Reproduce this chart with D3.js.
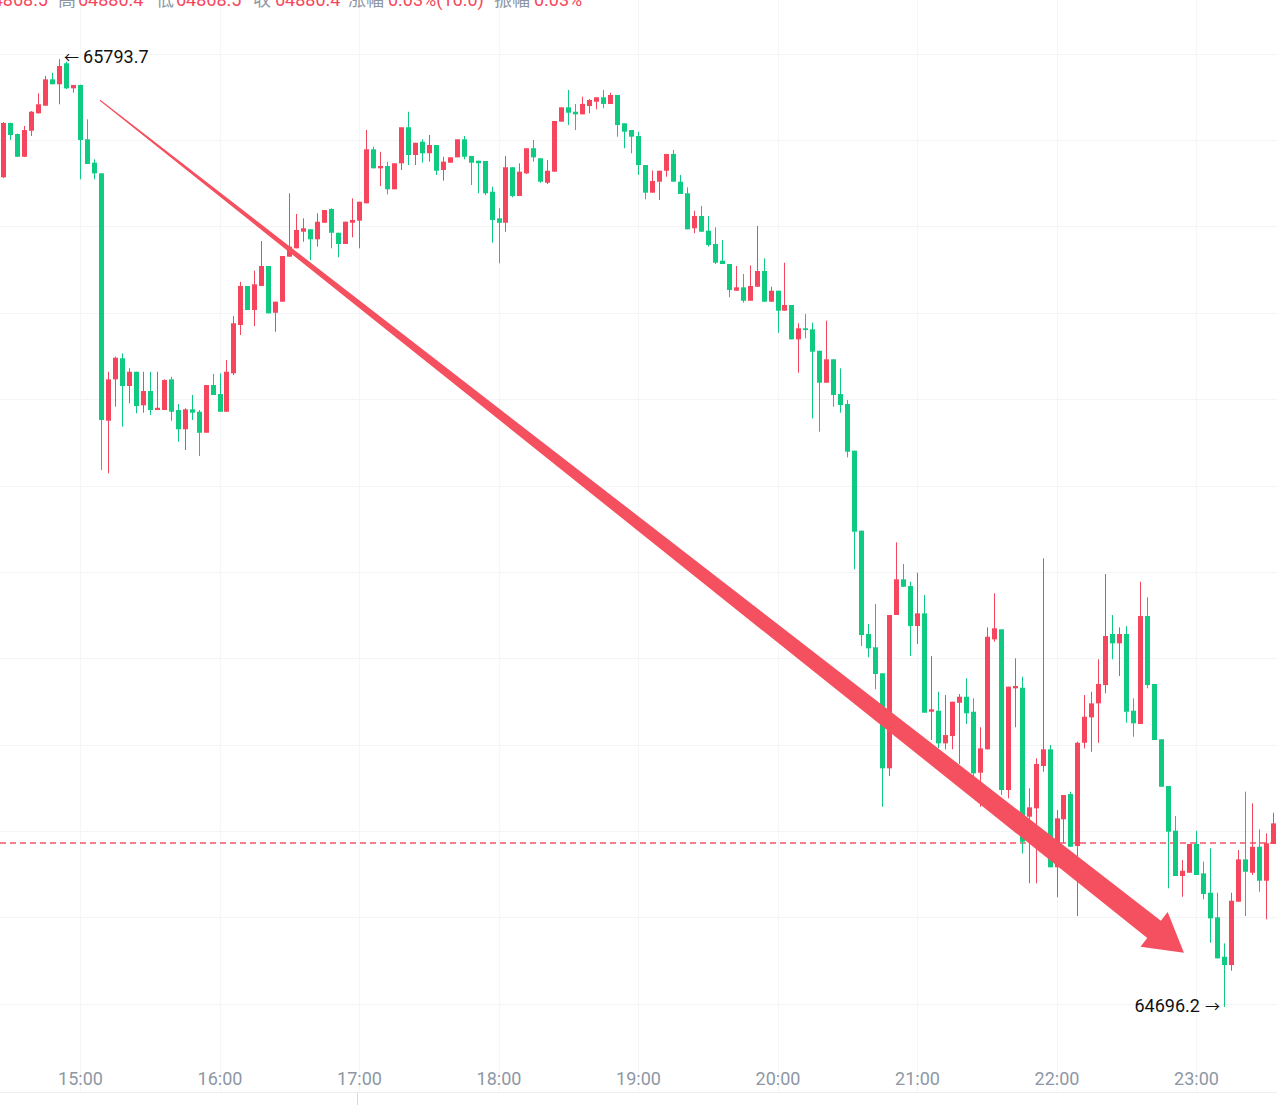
<!DOCTYPE html>
<html>
<head>
<meta charset="utf-8">
<script src="https://cdn.jsdelivr.net/npm/d3@7"></script>
<style>
  html, body { margin: 0; padding: 0; background: #fff; }
  svg { display: block; font-family: Roboto, "Noto Sans CJK SC", sans-serif; }
</style>
</head>
<body>
<svg id="chart" width="1277" height="1105"></svg>
<script>
// 3-minute candles, first one at 14:27
const firstCandle = new Date(2024, 2, 8, 14, 27);
const stepMinutes = 3;

const opens = [
  65656.8, 65719.7, 65706.9, 65680.6, 65710.7, 65730.9, 65739.7, 65770.2, 65764.5, 65788.8,
  65759.8, 65763.7, 65700.8, 65673.7, 65661.4, 65375.0, 65422.9, 65447.3, 65415.2, 65431.7,
  65392.8, 65409.4, 65387.4, 65387.4, 65422.9, 65387.4, 65365.1, 65388.2, 65385.4, 65361.1,
  65416.3, 65405.9, 65385.4, 65429.9, 65485.8, 65531.0, 65503.2, 65531.0, 65554.1, 65500.0,
  65512.8, 65564.9, 65574.6, 65593.8, 65596.6, 65585.0, 65604.2, 65620.1, 65592.6, 65579.6,
  65604.2, 65606.6, 65626.7, 65689.2, 65667.2, 65669.9, 65642.9, 65673.0, 65714.7, 65682.6,
  65698.0, 65684.6, 65694.2, 65665.2, 65673.7, 65679.9, 65700.8, 65681.5, 65676.0, 65675.7,
  65640.1, 65609.3, 65604.2, 65668.4, 65635.1, 65661.4, 65690.4, 65678.8, 65650.5, 65663.3,
  65721.2, 65737.8, 65732.7, 65729.7, 65739.3, 65744.3, 65749.4, 65741.7, 65752.1, 65719.3,
  65711.5, 65704.6, 65671.0, 65639.0, 65651.7, 65664.4, 65683.8, 65651.7, 65638.3, 65597.8,
  65612.0, 65595.0, 65579.6, 65560.2, 65556.4, 65525.5, 65529.4, 65513.9, 65530.1, 65548.3,
  65512.8, 65525.5, 65502.4, 65509.0, 65469.2, 65482.0, 65480.8, 65456.0, 65419.0, 65446.1,
  65405.9, 65394.3, 65340.3, 65247.7, 65128.1, 65112.7, 65082.6, 64972.6, 65150.1, 65191.4,
  65183.6, 65137.3, 65152.0, 65038.1, 65039.3, 65001.5, 65010.0, 65048.5, 65055.5, 65038.1,
  64967.5, 64994.6, 65121.9, 65133.5, 64947.5, 65065.2, 65065.9, 64916.6, 64926.3, 64975.3,
  64994.6, 64858.0, 64913.6, 64942.8, 64882.6, 65002.2, 65031.6, 65047.8, 65069.0, 65128.1,
  65117.3, 65128.1, 65039.3, 65023.9, 65148.9, 65070.2, 65006.2, 64952.1, 64900.4, 64847.9,
  64851.7, 64885.0, 64851.0, 64828.6, 64800.1, 64754.5, 64744.9, 64818.2, 64867.2, 64851.7,
  64881.8, 64842.5, 64885.0
];
const highs = [
  65720.8, 65720.0, 65707.5, 65716.2, 65733.5, 65754.0, 65774.1, 65777.9, 65793.7, 65790.6,
  65763.7, 65764.0, 65723.9, 65677.6, 65661.4, 65431.7, 65449.3, 65453.0, 65435.7, 65431.7,
  65431.7, 65431.7, 65431.7, 65422.9, 65425.9, 65394.3, 65389.4, 65404.8, 65387.4, 65416.3,
  65429.1, 65429.9, 65445.3, 65496.2, 65535.9, 65531.0, 65548.7, 65583.0, 65554.1, 65512.8,
  65565.7, 65638.3, 65614.3, 65609.3, 65596.6, 65615.1, 65618.9, 65620.9, 65592.6, 65605.4,
  65632.5, 65628.5, 65711.6, 65692.2, 65686.4, 65674.9, 65673.0, 65714.7, 65732.7, 65696.8,
  65700.8, 65705.8, 65694.2, 65680.6, 65679.9, 65700.8, 65704.6, 65681.5, 65676.0, 65675.7,
  65645.9, 65620.9, 65681.5, 65668.4, 65673.0, 65690.4, 65700.0, 65678.8, 65676.8, 65722.0,
  65737.8, 65757.9, 65741.7, 65750.1, 65747.4, 65749.4, 65757.9, 65754.7, 65752.1, 65719.3,
  65711.5, 65709.6, 65671.0, 65664.7, 65664.4, 65683.8, 65688.4, 65659.5, 65645.2, 65618.1,
  65623.6, 65612.0, 65598.9, 65584.2, 65556.4, 65554.1, 65544.8, 65554.9, 65600.4, 65563.0,
  65530.1, 65525.5, 65557.9, 65509.0, 65487.8, 65498.5, 65488.5, 65456.0, 65490.8, 65446.1,
  65435.7, 65399.0, 65340.3, 65247.7, 65139.6, 65162.8, 65082.6, 65150.1, 65234.2, 65209.1,
  65188.6, 65199.0, 65173.2, 65102.6, 65061.3, 65057.5, 65049.7, 65058.6, 65076.8, 65053.6,
  65020.1, 65135.8, 65175.2, 65133.5, 65067.1, 65099.9, 65078.6, 64949.4, 64984.2, 65215.7,
  64999.6, 64924.3, 64941.7, 64945.5, 65003.4, 65057.5, 65061.3, 65098.8, 65197.5, 65150.1,
  65135.8, 65137.3, 65053.6, 65188.6, 65170.6, 65070.2, 65006.2, 64952.1, 64917.4, 64866.4,
  64885.0, 64900.4, 64864.5, 64880.0, 64828.6, 64770.0, 64828.6, 64878.0, 64945.5, 64932.1,
  64902.0, 64897.3, 64921.2
];
const lows = [
  65656.0, 65700.0, 65680.3, 65680.3, 65704.6, 65730.5, 65739.7, 65764.5, 65741.3, 65759.0,
  65754.7, 65654.5, 65672.2, 65654.5, 65317.9, 65314.1, 65391.2, 65368.1, 65395.2, 65383.6,
  65384.3, 65381.6, 65387.4, 65387.4, 65375.0, 65350.7, 65341.1, 65375.8, 65334.1, 65361.1,
  65404.8, 65385.4, 65385.4, 65427.9, 65474.2, 65503.2, 65484.6, 65531.0, 65499.3, 65478.0,
  65512.8, 65564.9, 65574.6, 65582.2, 65561.0, 65576.5, 65604.2, 65574.6, 65564.2, 65579.6,
  65587.3, 65574.6, 65626.7, 65667.2, 65646.7, 65637.1, 65642.9, 65665.2, 65671.0, 65671.0,
  65673.7, 65674.9, 65659.5, 65652.9, 65673.7, 65679.9, 65677.6, 65647.9, 65638.3, 65636.3,
  65581.1, 65557.2, 65593.8, 65633.6, 65635.1, 65660.6, 65674.9, 65650.5, 65649.0, 65663.3,
  65721.2, 65717.3, 65711.5, 65729.7, 65730.9, 65735.5, 65736.7, 65741.7, 65703.8, 65690.4,
  65684.6, 65659.5, 65631.3, 65639.0, 65630.5, 65657.5, 65651.7, 65637.5, 65596.6, 65592.0,
  65593.8, 65576.5, 65556.4, 65556.4, 65517.9, 65525.5, 65511.6, 65513.9, 65530.1, 65512.8,
  65512.8, 65476.9, 65502.4, 65469.2, 65430.6, 65470.4, 65377.8, 65362.3, 65419.0, 65391.2,
  65384.3, 65332.6, 65203.0, 65114.2, 65101.1, 65064.1, 64928.1, 64963.7, 65150.1, 65182.8,
  65102.6, 65116.5, 65037.0, 65005.4, 64995.7, 64994.6, 64994.6, 64977.6, 65023.9, 64962.2,
  64928.1, 64994.6, 65119.2, 64941.7, 64937.9, 65020.1, 64874.2, 64839.5, 64839.5, 64968.7,
  64858.0, 64823.3, 64886.1, 64881.8, 64801.6, 64995.7, 64991.8, 65002.2, 65059.4, 65098.8,
  65079.4, 65025.4, 65009.2, 65023.9, 65065.2, 65005.4, 64951.3, 64833.7, 64847.9, 64823.9,
  64851.7, 64849.1, 64820.9, 64770.7, 64752.6, 64696.2, 64738.3, 64818.2, 64801.6, 64849.1,
  64829.7, 64797.8, 64885.0
];
const closes = [
  65719.7, 65705.8, 65680.6, 65711.5, 65732.7, 65741.3, 65770.2, 65764.5, 65785.6, 65759.8,
  65763.7, 65700.0, 65672.2, 65661.4, 65375.8, 65422.9, 65447.9, 65415.2, 65431.7, 65392.0,
  65409.4, 65387.4, 65390.0, 65422.1, 65385.4, 65365.1, 65388.2, 65384.3, 65361.1, 65416.3,
  65404.8, 65385.4, 65431.7, 65487.8, 65531.0, 65503.2, 65532.9, 65554.1, 65499.3, 65512.8,
  65565.7, 65576.5, 65595.8, 65597.8, 65585.0, 65605.4, 65618.9, 65592.6, 65579.6, 65605.4,
  65607.4, 65628.5, 65689.2, 65667.2, 65669.9, 65642.9, 65673.0, 65714.7, 65682.6, 65696.8,
  65684.6, 65694.2, 65664.4, 65674.9, 65679.9, 65700.8, 65680.6, 65673.7, 65673.0, 65638.3,
  65607.4, 65604.2, 65668.4, 65635.1, 65663.3, 65690.4, 65679.9, 65651.7, 65664.4, 65722.0,
  65737.8, 65731.6, 65729.7, 65741.7, 65746.3, 65749.4, 65741.7, 65752.1, 65717.3, 65709.6,
  65703.8, 65671.0, 65639.0, 65652.5, 65664.4, 65683.8, 65651.7, 65637.5, 65596.6, 65612.0,
  65593.8, 65578.4, 65557.9, 65556.4, 65526.3, 65529.4, 65513.9, 65531.0, 65548.3, 65512.8,
  65525.5, 65502.4, 65509.0, 65469.2, 65482.0, 65480.0, 65454.9, 65419.0, 65446.1, 65404.8,
  65393.2, 65339.1, 65246.5, 65126.9, 65111.5, 65081.8, 64972.6, 65150.1, 65191.4, 65182.8,
  65137.3, 65152.0, 65037.0, 65040.9, 65001.5, 65011.1, 65049.7, 65055.5, 65036.3, 64966.8,
  64995.7, 65124.9, 65134.7, 64947.5, 65067.1, 65067.9, 64887.6, 64927.4, 64977.6, 64994.6,
  64858.0, 64914.7, 64941.7, 64881.8, 65002.2, 65032.3, 65047.8, 65070.2, 65125.8, 65117.3,
  65128.1, 65038.1, 65024.7, 65148.9, 65069.0, 65005.4, 64951.3, 64899.2, 64847.9, 64854.0,
  64885.0, 64849.1, 64827.1, 64798.9, 64752.6, 64744.9, 64819.3, 64867.2, 64852.9, 64881.8,
  64842.5, 64885.8, 64908.9
];

// price grid levels and the dashed price line
const gridPrices = [64700, 64800, 64900, 65000, 65100, 65200, 65300, 65400, 65500, 65600, 65700, 65800];
const markLine = 64886;

// header of the last candle (cut at the top of the picture)
const header = [
  { t: "64868.5", red: true, x: 48, anchor: "end" },
  { t: "高", red: false, x: 58 },
  { t: "64880.4", red: true, x: 78 },
  { t: "低", red: false, x: 156 },
  { t: "64868.5", red: true, x: 176 },
  { t: "收", red: false, x: 253 },
  { t: "64880.4", red: true, x: 275 },
  { t: "涨幅", red: false, x: 348 },
  { t: "0.03%(16.0)", red: true, x: 388 },
  { t: "振幅", red: false, x: 494 },
  { t: "0.03%", red: true, x: 534 }
];

// drawn trend arrow (time, price)
const arrowFrom = { time: new Date(2024, 2, 8, 15, 8, 36), price: 65746 };
const arrowTo = { time: new Date(2024, 2, 8, 22, 54, 48), price: 64759 };

const UP = "#f6465d", DOWN = "#0ecb81", ARROW = "#f5505f";
const W = 1277, H = 1105;

const candles = opens.map((o, i) => ({
  time: d3.timeMinute.offset(firstCandle, i * stepMinutes),
  open: o, high: highs[i], low: lows[i], close: closes[i]
}));

const x = d3.scaleTime()
  .domain([new Date(2024, 2, 8, 14, 25, 35), new Date(2024, 2, 8, 23, 34, 50)])
  .range([0, W]);
const y = d3.scaleLinear().domain([64700, 65800]).range([1003.8, 53.6]);

const svg = d3.select("#chart");

// grid
svg.append("g").selectAll("line").data(gridPrices).join("line")
  .attr("x1", 0).attr("x2", W)
  .attr("y1", d => Math.round(y(d)) + 0.5).attr("y2", d => Math.round(y(d)) + 0.5)
  .attr("stroke", "#f3f4f6");
const hours = x.ticks(d3.timeHour.every(1));
svg.append("g").selectAll("line").data(hours).join("line")
  .attr("x1", d => Math.round(x(d)) + 0.5).attr("x2", d => Math.round(x(d)) + 0.5)
  .attr("y1", 0).attr("y2", 1092)
  .attr("stroke", "#f5f6f7");

// dashed price line
svg.append("line")
  .attr("x1", 0).attr("x2", W)
  .attr("y1", Math.round(y(markLine))).attr("y2", Math.round(y(markLine)))
  .attr("stroke", "#f4566a").attr("stroke-width", 1.6).attr("stroke-dasharray", "6,4");

// candles
const g = svg.append("g");
const bw = 5;
candles.forEach(d => {
  const cx = Math.round(x(d.time));
  const col = d.close >= d.open ? UP : DOWN;
  g.append("line")
    .attr("x1", cx + 0.5).attr("x2", cx + 0.5)
    .attr("y1", y(d.high)).attr("y2", y(d.low))
    .attr("stroke", col).attr("stroke-width", 1);
  const top = y(Math.max(d.open, d.close));
  const bot = y(Math.min(d.open, d.close));
  g.append("rect")
    .attr("x", cx - 2).attr("width", bw)
    .attr("y", top).attr("height", Math.max(1.5, bot - top))
    .attr("fill", col);
});

// x axis
const axis = d3.axisBottom(x)
  .ticks(d3.timeHour.every(1))
  .tickFormat(d3.timeFormat("%H:%M"))
  .tickSize(0).tickPadding(0);
const ax = svg.append("g").attr("transform", "translate(0,1085)").call(axis);
ax.select(".domain").remove();
ax.selectAll("text")
  .attr("dy", 0)
  .attr("font-family", "Roboto, sans-serif")
  .attr("font-size", 18).attr("fill", "#8e97a5");

svg.append("line").attr("x1", 0).attr("x2", W).attr("y1", 1092.5).attr("y2", 1092.5)
  .attr("stroke", "#eceef1");
svg.append("line").attr("x1", 357.5).attr("x2", 357.5).attr("y1", 1093).attr("y2", H)
  .attr("stroke", "#d5d8dc");

// trend arrow
const p0 = [x(arrowFrom.time), y(arrowFrom.price)];
const p1 = [x(arrowTo.time), y(arrowTo.price)];
const len = Math.hypot(p1[0] - p0[0], p1[1] - p0[1]);
const u = [(p1[0] - p0[0]) / len, (p1[1] - p0[1]) / len];
const n = [-u[1], u[0]];
const headLen = 38, headHalf = 22, shaftEnd = 11, shaftStart = 0.5;
const base = [p1[0] - u[0] * headLen, p1[1] - u[1] * headLen];
const pt = (p, k) => [p[0] + n[0] * k, p[1] + n[1] * k];
const arrowPts = [pt(p0, shaftStart), pt(base, shaftEnd), pt(base, headHalf), p1,
  pt(base, -headHalf), pt(base, -shaftEnd), pt(p0, -shaftStart)];
svg.append("path")
  .attr("d", d3.line()(arrowPts) + "Z")
  .attr("fill", ARROW);

// high / low labels
const hiIdx = d3.maxIndex(highs), loIdx = d3.minIndex(lows);
const hiLab = svg.append("text")
  .attr("x", x(candles[hiIdx].time) + 5).attr("y", y(highs[hiIdx]) + 4)
  .attr("font-size", 18).attr("fill", "#111");
hiLab.append("tspan").attr("font-size", 15).text("←");
hiLab.append("tspan").attr("dx", 4).text(highs[hiIdx].toFixed(1));
const loLab = svg.append("text")
  .attr("x", x(candles[loIdx].time) - 4).attr("y", y(lows[loIdx]) + 5)
  .attr("text-anchor", "end")
  .attr("font-size", 18).attr("fill", "#111");
loLab.append("tspan").text(lows[loIdx].toFixed(1));
loLab.append("tspan").attr("dx", 5).attr("font-size", 15).text("→");

// header
svg.append("g").selectAll("text").data(header).join("text")
  .attr("x", d => d.x).attr("y", 6)
  .attr("text-anchor", d => d.anchor || "start")
  .attr("font-size", 18)
  .attr("fill", d => d.red ? UP : "#8e97a5")
  .text(d => d.t);
</script>
</body>
</html>
